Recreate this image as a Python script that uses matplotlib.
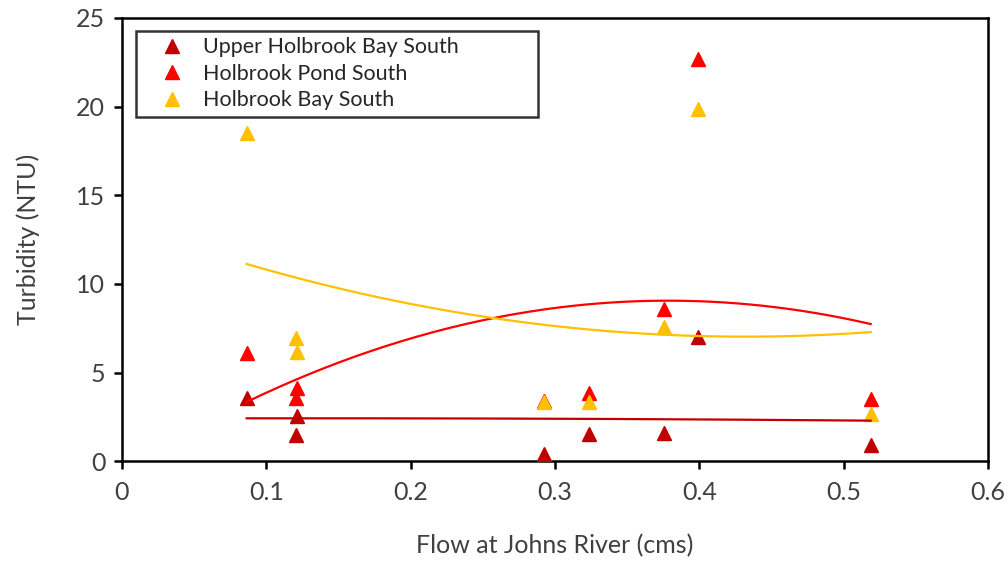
import numpy as np
import matplotlib
matplotlib.use("Agg")
import matplotlib.pyplot as plt

plt.rcParams['font.family'] = ['Lato', 'DejaVu Sans']

# caudal (cms) en cada fecha de muestreo
flow = [0.0864, 0.1206, 0.1213, 0.2927, 0.3236, 0.3758, 0.3990, 0.5188]

# turbidez (NTU) en cada estación
upper_bay = [3.57, 1.47, 2.52, 0.43, 1.52, 1.60, 7.02, 0.90]
pond = [6.09, 3.54, 4.12, 3.40, 3.86, 8.60, 22.69, 3.48]
bay = [18.53, 6.96, 6.15, 3.33, 3.33, 7.56, 19.86, 2.67]

series_names = ["Upper Holbrook Bay South", "Holbrook Pond South", "Holbrook Bay South"]
series_colors = ["#C00000", "#FF0000", "#FFC000"]

fig = plt.figure(figsize=(10.08, 5.61), dpi=100)
ax = fig.add_axes([0.121, 0.178, 0.859, 0.790])

x = np.array(flow)
xs = np.linspace(x.min(), x.max(), 200)

for name, values, color in zip(series_names, [upper_bay, pond, bay], series_colors):
    ax.plot(flow, values, linestyle='none', marker='^', markersize=10.5,
            color=color, label=name, zorder=3)
    # línea de tendencia polinómica de orden 2
    coefs = np.polyfit(x, np.array(values), 2)
    ax.plot(xs, np.polyval(coefs, xs), color=color, linewidth=1.6, zorder=4)

ax.set_xlim(0, 0.6)
ax.set_ylim(0, 25)
ax.set_xticks([0, 0.1, 0.2, 0.3, 0.4, 0.5, 0.6])
ax.set_xticklabels(["0", "0.1", "0.2", "0.3", "0.4", "0.5", "0.6"])
ax.set_yticks([0, 5, 10, 15, 20, 25])

for sp in ax.spines.values():
    sp.set_linewidth(1.8)
ax.tick_params(direction='out', length=6, width=1.8, labelsize=18,
               labelcolor='#404040')
ax.tick_params(axis='x', pad=8)
ax.tick_params(axis='y', pad=6)

ax.set_xlabel("Flow at Johns River (cms)", fontsize=18, color='#404040', labelpad=22)
ax.set_ylabel("Turbidity (NTU)", fontsize=18, color='#404040', labelpad=26)

# leyenda con marco negro y espacio extra a la derecha
leg = ax.legend(loc='upper left', bbox_to_anchor=(0.016, 0.5, 0.465, 0.471),
                mode='expand', fontsize=15.5, frameon=True, fancybox=False,
                borderpad=0.3, labelspacing=0.3, handletextpad=0.0,
                handlelength=2.8, borderaxespad=0)
leg.get_frame().set_edgecolor('black')
leg.get_frame().set_linewidth(1.8)
for t in leg.get_texts():
    t.set_color('#262626')

fig.savefig("out.png", dpi=100)
